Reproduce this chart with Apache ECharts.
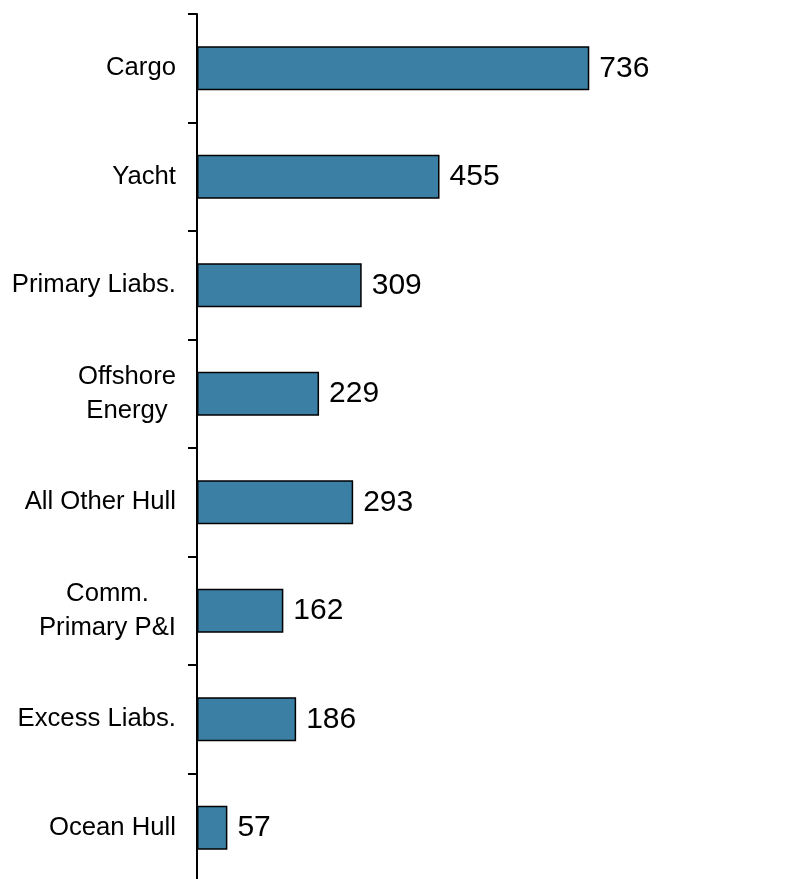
<!DOCTYPE html>
<html>
<head>
<meta charset="utf-8">
<script src="https://cdn.jsdelivr.net/npm/echarts@6/dist/echarts.min.js"></script>
<style>
html,body{margin:0;padding:0;background:#fff;overflow:hidden;width:790px;height:879px;}
#chart{width:790px;height:900px;}
</style>
</head>
<body>
<div id="chart"></div>
<script>
const categories = ["Cargo", "Yacht", "Primary Liabs.", "Offshore\nEnergy", "All Other Hull", "Comm.\nPrimary P&I", "Excess Liabs.", "Ocean Hull"];
const values = [736, 455, 309, 229, 293, 162, 186, 57];

const chart = echarts.init(document.getElementById('chart'), null, {renderer: 'canvas'});
chart.setOption({
  animation: false,
  backgroundColor: '#ffffff',
  grid: {left: 197, right: 60, top: 14, height: 868, containLabel: false},
  xAxis: {type: 'value', min: 0, max: 1000, show: false},
  yAxis: {
    type: 'category',
    data: categories,
    inverse: true,
    axisLine: {show: true, lineStyle: {color: '#000', width: 2}},
    axisTick: {show: true, length: 9, lineStyle: {color: '#000', width: 2}},
    axisLabel: {
      margin: 21,
      fontFamily: 'Liberation Sans, Arial, sans-serif',
      fontSize: 25.7,
      color: '#000',
      lineHeight: 34,
      formatter: function (v) {
        return v.split('\n').map(function (s) { return '{c|' + s + '}'; }).join('\n');
      },
      rich: {c: {align: 'center', fontSize: 25.7, lineHeight: 34, color: '#000', fontFamily: 'Liberation Sans, Arial, sans-serif'}}
    }
  },
  series: [{
    type: 'bar',
    data: values,
    barWidth: 44,
    itemStyle: {color: '#3B7FA4', borderColor: '#000', borderWidth: 1.5},
    label: {
      show: true,
      position: 'right',
      distance: 10,
      fontFamily: 'Liberation Sans, Arial, sans-serif',
      fontSize: 30,
      color: '#000'
    }
  }]
});
</script>
</body>
</html>
